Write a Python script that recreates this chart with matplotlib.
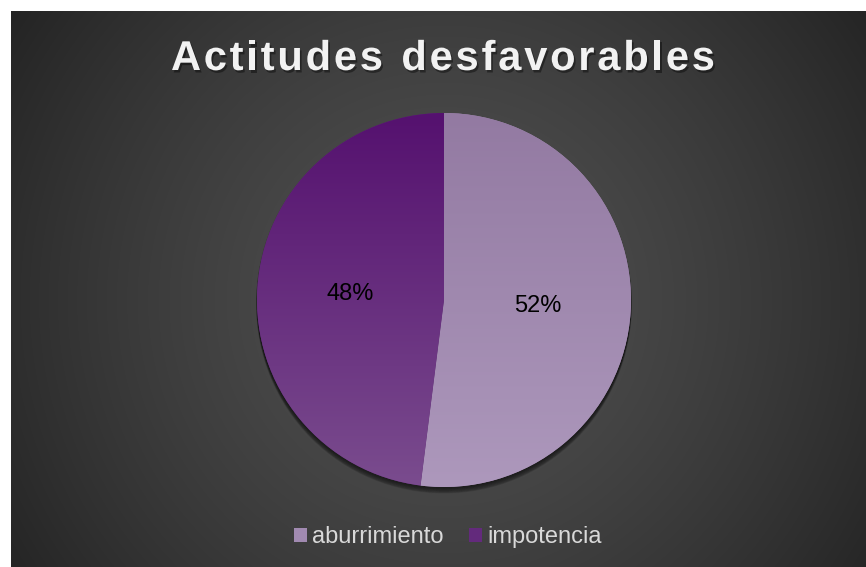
import matplotlib
matplotlib.use("Agg")
import matplotlib.pyplot as plt
import numpy as np
from matplotlib.colors import LinearSegmentedColormap
from matplotlib.patches import Circle, Patch
import matplotlib.patheffects as pe

title = "Actitudes desfavorables"
labels = ["aburrimiento", "impotencia"]
values = [52, 48]
# (top colour, bottom colour) of each slice's vertical gradient
top_colors = ["#937aa2", "#55116f"]
bottom_colors = ["#ad98bc", "#7a4c8e"]
mid_colors = ["#a18ab1", "#632a7c"]

plt.rcParams['font.family'] = ['Liberation Sans', 'DejaVu Sans']

W, H = 866, 567
fig = plt.figure(figsize=(W / 100, H / 100), dpi=100)
fig.patch.set_facecolor("white")

# dark radial background, white margin at top and left
bg = fig.add_axes([11 / W, 0, (W - 11) / W, (H - 11) / H])
bg.set_axis_off()
yy, xx = np.mgrid[0:H - 11, 0:W - 11]
cx, cy = 433, 289
r = np.hypot(xx - cx, yy - cy) / np.hypot(433, 289)
gray = (80 - 44 * np.clip(r, 0, 1) ** 1.4) / 255.0
bg.imshow(np.dstack([gray, gray, gray]), aspect="auto", interpolation="bilinear")

# pie
R = 187
pcx, pcy = 444, 300
ax = fig.add_axes([(pcx - R) / W, (H - pcy - R) / H, 2 * R / W, 2 * R / H])
ax.set_zorder(2)
wedges, texts, autotexts = ax.pie(values, colors=mid_colors, startangle=90,
                                  counterclock=False, autopct='%1.0f%%',
                                  pctdistance=0.5, radius=1,
                                  textprops=dict(color="black", fontsize=17))
ax.set_xlim(-1, 1)
ax.set_ylim(-1, 1)
ax.set_aspect("equal")
ax.set_axis_off()

# soft shadow under the pie (only shows below the rim)
for i in range(1, 8):
    ax.add_patch(Circle((0, -0.0045 * i), 1, color="black", alpha=0.09,
                        zorder=0, clip_on=False))

grad = np.linspace(0, 1, 256).reshape(-1, 1)
for w, ctop, cbot in zip(wedges, top_colors, bottom_colors):
    w.set_zorder(1)
    cmap = LinearSegmentedColormap.from_list("g", [cbot, ctop])
    im = ax.imshow(grad, cmap=cmap, extent=[-1, 1, -1, 1], origin="lower",
                   aspect="auto", zorder=1.5)
    im.set_clip_path(w)
for t in autotexts:
    t.set_zorder(3)

# title with letter spacing and shadow
renderer = fig.canvas.get_renderer()
tprops = dict(fontsize=30, fontweight="bold", color="#f2f2f2")
widths = []
for ch in title:
    t = fig.text(0, 0, ch if ch != " " else "n", **tprops)
    wdt = t.get_window_extent(renderer).width
    if ch == " ":
        wdt *= 0.5
    widths.append(wdt)
    t.remove()
target = 544
spacing = (target - sum(widths)) / (len(title) - 1)
x = 171
for ch, wdt in zip(title, widths):
    if ch != " ":
        fig.text(x / W, 1 - 70 / H, ch, ha="left", va="baseline",
                 path_effects=[pe.withSimplePatchShadow(offset=(1.2, -1.8),
                                                        shadow_rgbFace="black",
                                                        alpha=0.4)],
                 **tprops)
    x += wdt + spacing

# legend
handles = [Patch(facecolor=c, edgecolor="none") for c in mid_colors]
fig.legend(handles, labels, loc="center", bbox_to_anchor=(448 / W, 1 - 537 / H),
           ncol=2, frameon=False, fontsize=17, labelcolor="#d9d9d9",
           handlelength=0.55, handleheight=0.55, handletextpad=0.2,
           columnspacing=1.1)

fig.savefig("out.png", dpi=100, facecolor=fig.get_facecolor())
